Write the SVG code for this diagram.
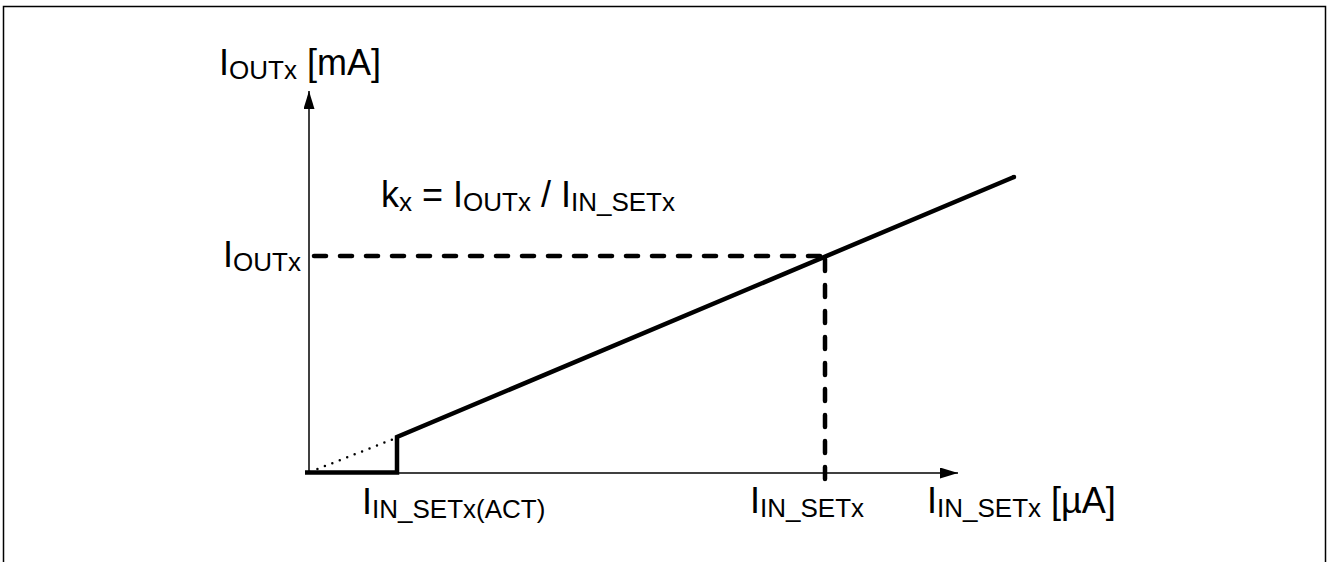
<svg xmlns="http://www.w3.org/2000/svg" width="1328" height="562" viewBox="0 0 1328 562">
<style>
text{font-family:"Liberation Sans",Arial,sans-serif;font-size:36px;fill:#000}
.sub{font-size:26px}
.thin{stroke:#000;stroke-width:1.5;fill:none}
.thick{stroke:#000;stroke-width:4.5;fill:none;stroke-linejoin:miter}
.dash{stroke:#000;stroke-width:4.5;fill:none;stroke-dasharray:12 14;stroke-linecap:round}
.dot{stroke:#000;stroke-width:2.5;fill:none;stroke-dasharray:0 8;stroke-linecap:round}
</style>
<defs>
<marker id="arr" viewBox="0 0 18 11" refX="18" refY="5.5" markerWidth="18" markerHeight="11" markerUnits="userSpaceOnUse" orient="auto">
<path d="M0,0 L18,5.5 L0,11 Z" fill="#000"/>
</marker>
</defs>
<rect width="1328" height="562" fill="#fff"/>
<path class="thin" d="M3.5,562 V6.5 H1325.5 V562"/>
<g id="connectors">
<line id="y-axis" class="thin" x1="309" y1="474" x2="309" y2="91" marker-end="url(#arr)"/>
<line id="x-axis" class="thin" x1="305" y1="473" x2="958" y2="473" marker-end="url(#arr)"/>
<line id="extrapolation" class="dot" x1="310" y1="472" x2="396" y2="438"/>
<polyline id="characteristic" class="thick" points="305,472.5 397,472.5 397,437 1014,177" stroke-linecap="butt"/>
<circle cx="1014" cy="177" r="2.25" fill="#000"/>
<line id="iout-dash" class="dash" x1="314" y1="256" x2="823" y2="256"/>
<line id="iin-dash" class="dash" x1="825" y1="259" x2="825" y2="486"/>
</g>
<g id="label-yaxis"><text x="219" y="75">I<tspan class="sub" dy="4">OUTx</tspan><tspan dy="-4"> [mA]</tspan></text></g>
<g id="label-formula"><text x="381" y="207">k<tspan class="sub" dy="4">x</tspan><tspan dy="-4"> = I</tspan><tspan class="sub" dy="4">OUTx</tspan><tspan dy="-4"> / I</tspan><tspan class="sub" dy="4">IN_SETx</tspan></text></g>
<g id="label-iout"><text x="223" y="267">I<tspan class="sub" dy="4">OUTx</tspan></text></g>
<g id="label-act"><text x="362" y="514">I<tspan class="sub" dy="4">IN_SETx(ACT)</tspan></text></g>
<g id="label-inset"><text x="750" y="513">I<tspan class="sub" dy="4">IN_SETx</tspan></text></g>
<g id="label-xaxis"><text x="927" y="513">I<tspan class="sub" dy="4">IN_SETx</tspan><tspan dy="-4"> [µA]</tspan></text></g>
</svg>
